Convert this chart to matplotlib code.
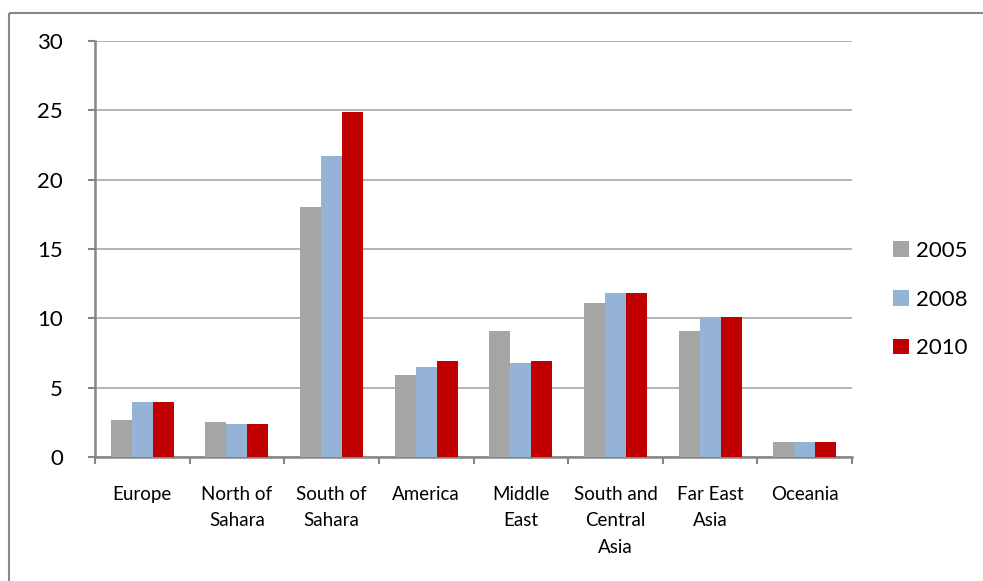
import matplotlib
matplotlib.use("Agg")
import matplotlib.pyplot as plt
import numpy as np
from matplotlib.lines import Line2D

categories = ["Europe", "North of\nSahara", "South of\nSahara", "America",
              "Middle\nEast", "South and\nCentral\nAsia", "Far East\nAsia", "Oceania"]
series_names = ["2005", "2008", "2010"]
v2005 = [2.7, 2.5, 18.0, 5.9, 9.1, 11.1, 9.1, 1.1]
v2008 = [4.0, 2.4, 21.7, 6.5, 6.8, 11.8, 10.1, 1.1]
v2010 = [4.0, 2.4, 24.9, 6.9, 6.9, 11.8, 10.1, 1.1]
colors = ["#A5A5A5", "#95B3D7", "#C00000"]
yticks = [0, 5, 10, 15, 20, 25, 30]

plt.rcParams['font.family'] = ['Lato', 'DejaVu Sans']

W, H = 983, 581
fig = plt.figure(figsize=(W / 100, H / 100), dpi=100)
ax = fig.add_axes([95 / W, 1 - 457 / H, 757 / W, 416 / H])

n = len(categories)
x = np.arange(n)
bw = 1 / 4.5
for i, (vals, c, name) in enumerate(zip([v2005, v2008, v2010], colors, series_names)):
    ax.bar(x + (i - 1) * bw, vals, width=bw, color=c, label=name, zorder=3, linewidth=0)

ax.set_xlim(-0.5, n - 0.5)
ax.set_ylim(0, 30)
ax.set_yticks(yticks)
ax.set_yticklabels([str(t) for t in yticks], fontsize=16)
ax.yaxis.grid(True, color="#B3B3B3", linewidth=1.4, zorder=0)
ax.set_axisbelow(True)

ax.set_xticks(np.arange(n + 1) - 0.5)
ax.set_xticklabels([])
ax.set_xticks(x, minor=True)
ax.set_xticklabels(categories, minor=True, fontsize=13.5, linespacing=1.66, va='top')
ax.tick_params(axis='x', which='minor', length=0, pad=21)
ax.tick_params(axis='x', which='major', length=5, width=1.5, color="#868686", direction='out')
ax.tick_params(axis='y', length=5, width=1.5, color="#868686", direction='out', pad=18)

for s in ['top', 'right']:
    ax.spines[s].set_visible(False)
for s in ['left', 'bottom']:
    ax.spines[s].set_color("#868686")
    ax.spines[s].set_linewidth(1.8)

leg = ax.legend(loc='center left', bbox_to_anchor=(893 / W, 1 - 299.5 / H),
                bbox_transform=fig.transFigure, frameon=False, fontsize=16,
                handlelength=0.7, handleheight=0.7, handletextpad=0.35,
                labelspacing=1.3, borderpad=0, borderaxespad=0)

bx, by = 8.5 / W, 1 - 12.5 / H
fig.add_artist(Line2D([bx, 1.05], [by, by], transform=fig.transFigure, color="#888888",
                      linewidth=1.5, solid_capstyle='butt'))
fig.add_artist(Line2D([bx, bx], [-0.05, by], transform=fig.transFigure, color="#888888",
                      linewidth=1.5, solid_capstyle='butt'))

fig.savefig("out.png", dpi=100)
